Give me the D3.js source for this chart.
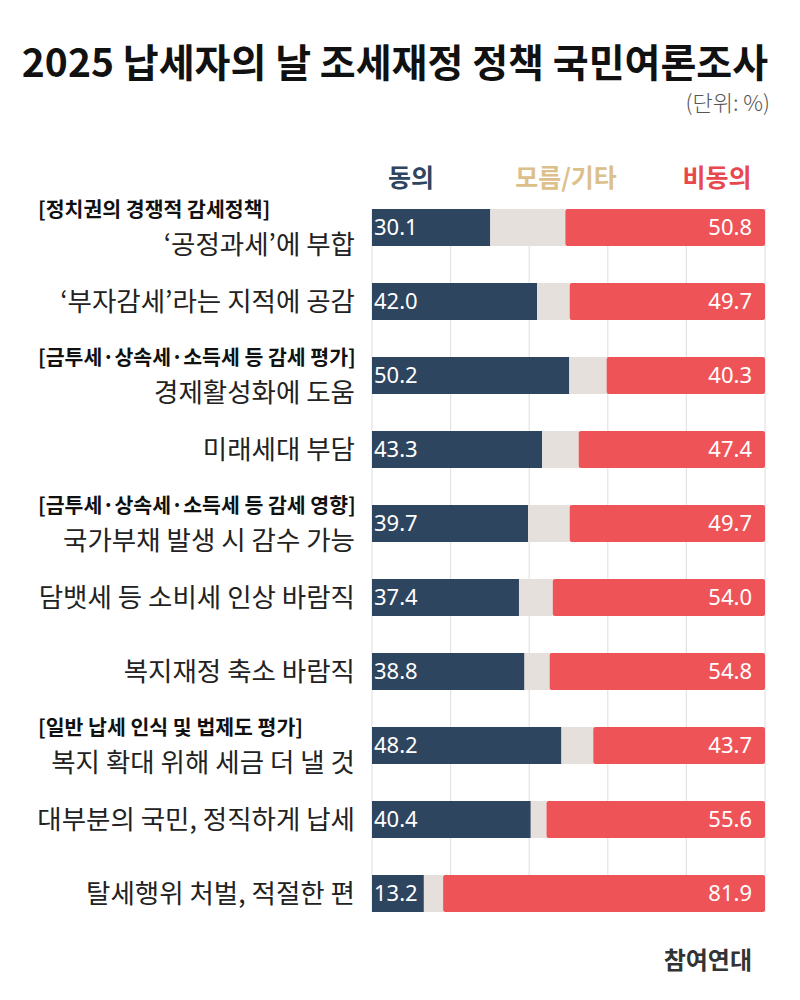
<!DOCTYPE html>
<html>
<head>
<meta charset="utf-8">
<script src="https://cdn.jsdelivr.net/npm/d3@7"></script>
<style>
  body { margin: 0; background: #fff; }
  svg text { font-family: "Noto Sans CJK KR", "Noto Sans", sans-serif; }
</style>
</head>
<body>
<div id="chart"></div>
<script>
// data (unit: %)
var labels = [
    "‘공정과세’에 부합",
    "‘부자감세’라는 지적에 공감",
    "경제활성화에 도움",
    "미래세대 부담",
    "국가부채 발생 시 감수 가능",
    "담뱃세 등 소비세 인상 바람직",
    "복지재정 축소 바람직",
    "복지 확대 위해 세금 더 낼 것",
    "대부분의 국민, 정직하게 납세",
    "탈세행위 처벌, 적절한 편"
];
var groupHeaders = [
    "[정치권의 경쟁적 감세정책]", null,
    "[금투세·상속세·소득세 등 감세 평가]", null,
    "[금투세·상속세·소득세 등 감세 영향]", null, null,
    "[일반 납세 인식 및 법제도 평가]", null, null
];
var agree    = [30.1, 42.0, 50.2, 43.3, 39.7, 37.4, 38.8, 48.2, 40.4, 13.2];
var unsure   = [19.1,  8.3,  9.5,  9.3, 10.6,  8.6,  6.4,  8.1,  4.0,  4.9];
var disagree = [50.8, 49.7, 40.3, 47.4, 49.7, 54.0, 54.8, 43.7, 55.6, 81.9];
var seriesNames = ["동의", "모름/기타", "비동의"];
var gridTicks = [0, 20, 40, 60, 80, 100];

var svgWidth = 800;
var svgHeight = 1000;
var colors = ["#2e4560", "#e6e0dc", "#ee5457"];
var legendColors = ["#2e4560", "#dcc08c", "#e8474e"];

var svg = d3.select("#chart")
    .append("svg")
    .attr("width", svgWidth)
    .attr("height", svgHeight);

// scales: bars 37px tall, 74px apart
var x = d3.scaleLinear().domain([0, 100]).range([372, 765]);
var y = d3.scaleBand()
    .domain(d3.range(labels.length))
    .range([209, 912])
    .paddingInner(0.5)
    .paddingOuter(0);

var rows = labels.map(function(l, i) {
    return { i: i, label: l, header: groupHeaders[i],
             agree: agree[i], unsure: unsure[i], disagree: disagree[i] };
});

// title
svg.append("text")
    .attr("x", 395).attr("y", 77)
    .attr("text-anchor", "middle")
    .attr("font-size", 39).attr("font-weight", 700)
    .attr("fill", "#111")
    .text("2025 납세자의 날 조세재정 정책 국민여론조사");

svg.append("text")
    .attr("x", 770).attr("y", 111)
    .attr("text-anchor", "end")
    .attr("font-size", 22)
    .attr("font-weight", 300)
    .attr("fill", "#555")
    .text("(단위: %)");

// legend
var legendX = [411, 566, 717];
svg.selectAll(".legend")
    .data(seriesNames)
    .enter()
    .append("text")
    .attr("class", "legend")
    .attr("x", (d, i) => legendX[i])
    .attr("y", 187)
    .attr("text-anchor", "middle")
    .attr("font-size", 25).attr("font-weight", 700)
    .attr("fill", (d, i) => legendColors[i])
    .text(d => d);

// grid lines
var gridTop = y(0);
var gridBottom = y(labels.length - 1) + y.bandwidth();
svg.selectAll(".grid")
    .data(gridTicks)
    .enter()
    .append("line")
    .attr("x1", d => x(d)).attr("x2", d => x(d))
    .attr("y1", gridTop).attr("y2", gridBottom)
    .attr("stroke", "#e3e3e3")
    .attr("stroke-width", 1.2);

// bars
var barGroup = svg.selectAll(".row")
    .data(rows)
    .enter()
    .append("g")
    .attr("class", "row");

barGroup.append("rect")
    .attr("x", x(0))
    .attr("y", d => y(d.i))
    .attr("width", d => x(d.agree) - x(0))
    .attr("height", y.bandwidth())
    .attr("fill", colors[0]);

barGroup.append("rect")
    .attr("x", d => x(d.agree))
    .attr("y", d => y(d.i))
    .attr("width", d => x(d.agree + d.unsure) - x(d.agree))
    .attr("height", y.bandwidth())
    .attr("fill", colors[1]);

barGroup.append("rect")
    .attr("x", d => x(100 - d.disagree))
    .attr("y", d => y(d.i))
    .attr("width", d => x(100) - x(100 - d.disagree))
    .attr("height", y.bandwidth())
    .attr("rx", 2)
    .attr("fill", colors[2]);

// value labels
barGroup.append("text")
    .attr("x", x(0) + 2)
    .attr("y", d => y(d.i) + y.bandwidth() / 2)
    .attr("dy", "0.36em")
    .attr("font-size", 22)
    .attr("fill", "#fff")
    .style("font-family", "'Noto Sans', sans-serif")
    .text(d => d.agree.toFixed(1));

barGroup.append("text")
    .attr("x", x(100) - 13)
    .attr("y", d => y(d.i) + y.bandwidth() / 2)
    .attr("dy", "0.36em")
    .attr("text-anchor", "end")
    .attr("font-size", 22)
    .attr("fill", "#fff")
    .style("font-family", "'Noto Sans', sans-serif")
    .text(d => d.disagree.toFixed(1));

// category labels
barGroup.append("text")
    .attr("x", 355)
    .attr("y", d => d.header ? y(d.i) + y.bandwidth() - 2 : y(d.i) + y.bandwidth() / 2)
    .attr("dy", "0.36em")
    .attr("text-anchor", "end")
    .attr("font-size", 26.5)
    .attr("fill", "#222")
    .text(d => d.label);

// group headers
barGroup.filter(d => d.header)
    .append("text")
    .attr("x", 38)
    .attr("y", d => y(d.i) + 1)
    .attr("dy", "0.36em")
    .attr("font-size", 20.5)
    .attr("font-weight", 700)
    .attr("fill", "#111")
    .text(d => d.header);

// source
svg.append("text")
    .attr("x", 752).attr("y", 969)
    .attr("text-anchor", "end")
    .attr("font-size", 24).attr("font-weight", 700)
    .attr("fill", "#333")
    .text("참여연대");
</script>
</body>
</html>
